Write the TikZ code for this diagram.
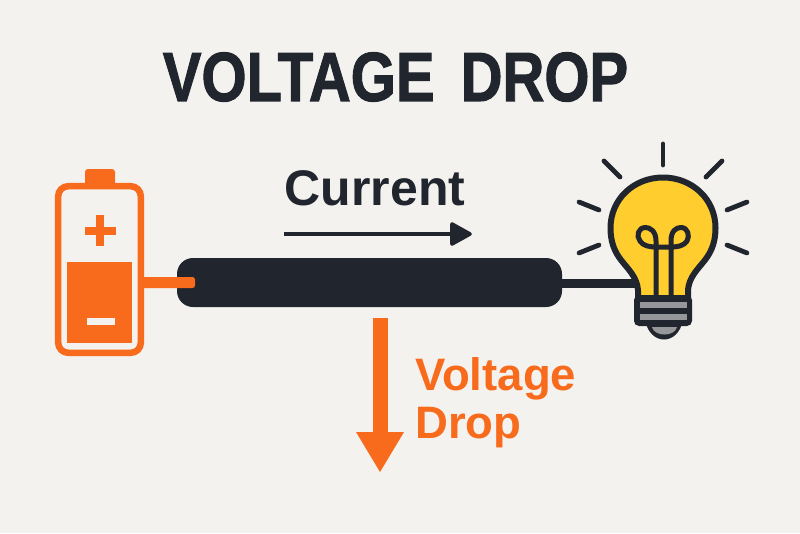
\documentclass[tikz,border=0pt]{standalone}
\usepackage{fontspec}
\setmainfont{Liberation Sans}
\newfontfamily\heavyfont[BoldFeatures={FakeBold=1.6}]{Liberation Sans}
\definecolor{bg}{HTML}{F3F2EE}
\definecolor{ink}{HTML}{20252E}
\definecolor{org}{HTML}{F86A1C}
\definecolor{yel}{HTML}{FFCE2E}
\definecolor{gry}{HTML}{96979A}
\tikzset{
 ray/.style={draw=ink,line width=4.8pt,line cap=round},
 bulbline/.style={draw=ink,line width=6pt,line join=round},
 txt/.style={inner sep=0,anchor=center,font=\bfseries},
}
\begin{document}
\begin{tikzpicture}[x=1pt,y=-1pt]
\path[use as bounding box,fill=bg] (0,0) rectangle (800,533);
\node[txt,text=ink,font=\heavyfont\bfseries\fontsize{58}{58}\selectfont,yscale=1.2] (title) at (395.5,77) {VOLTAGE\hspace{10pt} DROP};
\node[txt,text=ink,font=\bfseries\fontsize{50}{50}\selectfont] (current) at (375,188) {Current};
\coordinate (ca) at (284,234); \coordinate (cb) at (472,234);
\draw[ink,line width=3.4pt] (ca) -- (455,234);
\draw[ink,line width=3.6pt,line cap=round,line join=round] (452,224) -- (470,234) -- (452,244) -- cycle;
\fill[ink] (452,224) -- (470,234) -- (452,244) -- cycle;
% wire to bulb
\coordinate (wr) at (562,283); \coordinate (bl) at (640,283);
\draw[ink,line width=9pt] (wr) -- (bl);
% cable
\node[fill=ink,rounded corners=16pt,minimum width=385pt,minimum height=49pt,inner sep=0] (cable) at (369.5,282.5) {};
% battery
\fill[org,rounded corners=3pt] (85,169) rectangle (115,190);
\draw[org,line width=6.5pt,fill=bg,rounded corners=10pt] (58.2,186.2) rectangle (140.8,352.8);
\fill[org] (67,262) rectangle (132,343);
\fill[org] (85,227) rectangle (116,235);
\fill[org] (96,215) rectangle (104,246);
\fill[bg] (87,318) rectangle (115,325);
\coordinate (ls) at (144,282.5); \coordinate (le) at (195,282.5);
\fill[org,rounded corners=2.5pt] (142,277) rectangle (195,288);
% rays
\draw[ray] (663,144) -- (663,165);
\draw[ray] (604,161) -- (620,177);
\draw[ray] (722,161) -- (706,177);
\draw[ray] (579,202) -- (599,210);
\draw[ray] (747,202) -- (727,210);
\draw[ray] (579,253) -- (599,245);
\draw[ray] (747,253) -- (727,245);
% bulb
\draw[bulbline,fill=yel] (638,298) -- (638,290)
  .. controls (637,277) and (628,269) .. (621,260)
  .. controls (614,251) and (610.5,241) .. (610.5,228)
  .. controls (610.5,199) and (634,177.5) .. (663,177.5)
  .. controls (692,177.5) and (715.5,199) .. (715.5,228)
  .. controls (715.5,241) and (712,251) .. (705,260)
  .. controls (698,269) and (689,277) .. (688,290)
  -- (688,298) -- cycle;
% filament
\draw[ink,line width=5pt,line join=round] (656,297) -- (656,241)
  .. controls (656,231) and (650,227.5) .. (645.5,227.5)
  .. controls (638,227.5) and (636,236) .. (640,241)
  .. controls (643,246) and (650,247) .. (656,247)
  -- (671,247)
  .. controls (677,247) and (684,246) .. (687,241)
  .. controls (690,236) and (688,227.5) .. (681,227.5)
  .. controls (676,227.5) and (671,231) .. (671,241)
  -- (671,297);
% base
\fill[ink,rounded corners=5pt] (634,295) rectangle (692,326);
\fill[ink] (645,320) .. controls (650,346) and (678,346) .. (683,320) -- cycle;
\fill[gry] (640,302) rectangle (687,308);
\fill[gry] (640,314) rectangle (687,320);
\fill[gry] (652,327) -- (677,327) .. controls (675,337) and (654,337) .. (652,327) -- cycle;
% drop arrow
\coordinate (da) at (380,318); \coordinate (db) at (380,472);
\draw[org,line width=15pt] (da) -- (380,440);
\fill[org] (db) -- (356,432) -- (404,432) -- cycle;
\node[txt,text=org,font=\bfseries\fontsize{45.5}{45.5}\selectfont,anchor=west] (v) at (415,379) {Voltage};
\node[txt,text=org,font=\bfseries\fontsize{45.5}{45.5}\selectfont,anchor=west] (d) at (415,428) {Drop};
\end{tikzpicture}
\end{document}
